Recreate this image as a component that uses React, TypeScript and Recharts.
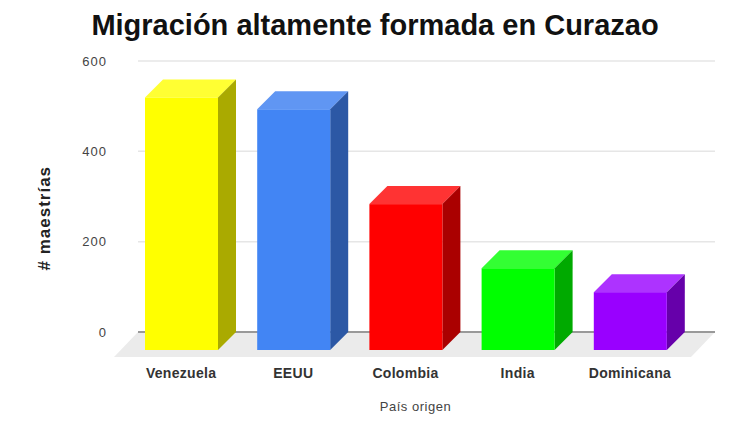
import React from 'react';
import { BarChart, Bar, XAxis, YAxis, CartesianGrid, Customized, usePlotArea } from 'recharts';

const countries = ['Venezuela', 'EEUU', 'Colombia', 'India', 'Dominicana'];
const masters = [559, 533, 323, 181, 128];
const frontColors = ['#ffff00', '#4285f4', '#ff0000', '#00ff00', '#9900ff'];
const topColors = ['#ffff33', '#6096f3', '#ff3333', '#33ff33', '#ad33ff'];
const sideColors = ['#aaaa00', '#2c58a5', '#aa0000', '#00aa00', '#6600aa'];
const yTicks = [0, 200, 400, 600];

const data = countries.map((country, i) => ({ country, masters: masters[i] }));

// how far the front face sits from the back plane, where the axis scale lives
const DEPTH_X = 18;
const DEPTH_Y = 18;

const Bar3D = (props: any) => {
  const { x, y, width, height, index } = props;
  const fx = x - DEPTH_X;
  const fy = y + DEPTH_Y;
  const right = fx + width;
  const bottom = fy + height;
  return (
    <g>
      <polygon
        points={`${fx},${fy} ${x},${y} ${x + width},${y} ${right},${fy}`}
        fill={topColors[index]}
      />
      <polygon
        points={`${right},${fy} ${x + width},${y} ${x + width},${y + height} ${right},${bottom}`}
        fill={sideColors[index]}
      />
      <rect x={fx} y={fy} width={width} height={height} fill={frontColors[index]} />
    </g>
  );
};

// grey floor under the bars, with the dark zero line along its back edge
const Floor = () => {
  const plot = usePlotArea();
  if (!plot) return null;
  const backY = plot.y + plot.height;
  const left = plot.x;
  const right = plot.x + plot.width;
  return (
    <g>
      <polygon
        points={`${left},${backY} ${right},${backY} ${right - 24},${backY + 25} ${left - 24},${backY + 25}`}
        fill="#ebebeb"
      />
      <line x1={left} y1={backY} x2={right} y2={backY} stroke="#999999" strokeWidth={2} />
    </g>
  );
};

export default function App() {
  return (
    <div style={{ position: 'absolute', left: 0, top: 0, width: 735, height: 422, background: '#fff' }}>
      <div
        style={{
          position: 'absolute',
          left: 0,
          top: 9,
          width: 750,
          textAlign: 'center',
          fontFamily: 'Liberation Sans, Arial, sans-serif',
          fontWeight: 'bold',
          fontSize: 29,
          lineHeight: '32px',
          color: '#111',
        }}
      >
        Migración altamente formada en Curazao
      </div>
      <BarChart
        width={735}
        height={422}
        data={data}
        barSize={73}
        margin={{ top: 61, right: 20, left: 0, bottom: 0 }}
      >
        <CartesianGrid vertical={false} stroke="#e6e6e6" strokeWidth={1.5} />
        <XAxis
          dataKey="country"
          height={90}
          padding={{ left: 5, right: 11 }}
          axisLine={false}
          tickLine={false}
          interval={0}
          tickMargin={30}
          tick={{ dx: -DEPTH_X, fill: '#333', fontSize: 14, letterSpacing: 0.3, fontWeight: 'bold', fontFamily: 'Liberation Sans, Arial, sans-serif' }}
          label={{
            value: 'País origen',
            position: 'insideBottom',
            offset: 11,
            dx: -11,
            fill: '#444',
            fontSize: 13,
            letterSpacing: 0.5,
            fontFamily: 'Liberation Sans, Arial, sans-serif',
          }}
        />
        <YAxis
          width={138}
          domain={[0, 600]}
          ticks={yTicks}
          axisLine={false}
          tickLine={false}
          tickMargin={25}
          tick={{ fill: '#444', fontSize: 13, letterSpacing: 1, fontFamily: 'Liberation Sans, Arial, sans-serif' }}
          label={{
            value: '# maestrías',
            angle: -90,
            position: 'insideLeft',
            offset: 44,
            dy: 74,
            fill: '#222',
            fontSize: 17,
            letterSpacing: 1,
            fontWeight: 'bold',
            fontFamily: 'Liberation Sans, Arial, sans-serif',
          }}
        />
        <Customized component={Floor} />
        <Bar dataKey="masters" shape={Bar3D} isAnimationActive={false} />
      </BarChart>
    </div>
  );
}
